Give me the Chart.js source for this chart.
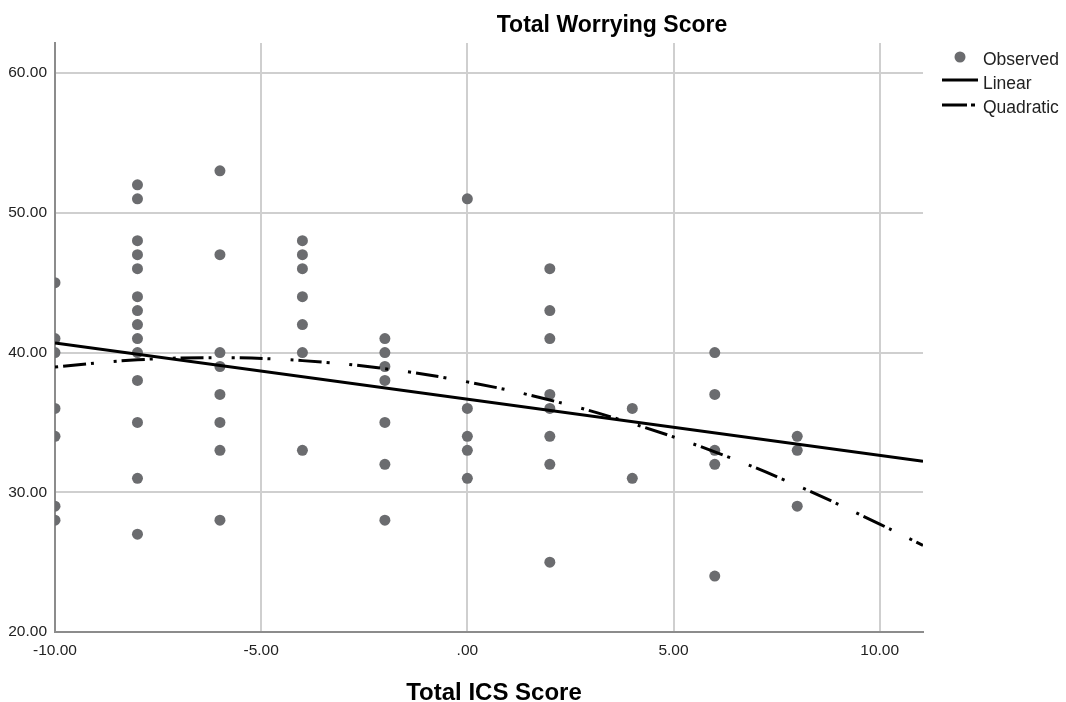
<!DOCTYPE html>
<html>
<head>
<meta charset="utf-8">
<title>Total Worrying Score</title>
<script src="https://cdn.jsdelivr.net/npm/chart.js@4"></script>
<style>
  html, body { margin: 0; padding: 0; background: #fff; }
  #wrap { width: 1066px; height: 702px; position: relative; }
</style>
</head>
<body>
<div id="wrap"><canvas id="worryChart"></canvas></div>
<script>
// ----------------------------- Data -----------------------------------
const chartTitle = 'Total Worrying Score';
const xAxisTitle = 'Total ICS Score';

// Observed cases (ICS score, worrying score), read column by column
const obsIcs = [
  -10, -10, -10, -10, -10, -10, -10,
  -8, -8, -8, -8, -8, -8, -8, -8, -8, -8, -8, -8, -8, -8,
  -6, -6, -6, -6, -6, -6, -6, -6,
  -4, -4, -4, -4, -4, -4, -4,
  -2, -2, -2, -2, -2, -2, -2,
  0, 0, 0, 0, 0,
  2, 2, 2, 2, 2, 2, 2, 2,
  4, 4,
  6, 6, 6, 6, 6,
  8, 8, 8
];
const obsWorry = [
  45, 41, 40, 36, 34, 29, 28,
  52, 51, 48, 47, 46, 44, 43, 42, 41, 40, 38, 35, 31, 27,
  53, 47, 40, 39, 37, 35, 33, 28,
  48, 47, 46, 44, 42, 40, 33,
  41, 40, 39, 38, 35, 32, 28,
  51, 36, 34, 33, 31,
  46, 43, 41, 37, 36, 34, 32, 25,
  36, 31,
  40, 37, 33, 32, 24,
  34, 33, 29
];

// Linear fit line (read at its two ends)
const linearIcs = [-10, 11.05];
const linearWorry = [40.68, 32.22];

// Quadratic fit curve
const quadIcs = [-10, -8, -6, -4, -2, 0, 2, 4, 6, 8, 10, 11.05];
const quadWorry = [38.96, 39.48, 39.63, 39.42, 38.84, 37.9, 36.6, 34.92, 32.89, 30.48, 27.72, 26.2];

// Axis ticks and range
const xTicks = [-10, -5, 0, 5, 10];
const yTicks = [20, 30, 40, 50, 60];
const xMin = -10, xMax = 11.05;
const yMin = 20, yMax = 62.15;

const legendLabels = ['Observed', 'Linear', 'Quadratic'];

// ----------------------------- Helpers ---------------------------------
const FONT = '"Liberation Sans", Arial, sans-serif';
const pointGrey = '#6b6c6f';
const quadDash = [3, 5, 23, 5, 3, 20];

function zip(xs, ys) {
  return xs.map((x, i) => ({ x: x, y: ys[i] }));
}

// SPSS style labels: ".00" for zero
function spssLabel(v) {
  const s = Number(v).toFixed(2);
  return s === '0.00' ? '.00' : s;
}

// Title, x axis title and legend drawn on the canvas
const spssText = {
  id: 'spssText',
  afterDraw(chart) {
    const ctx = chart.ctx;
    ctx.save();
    ctx.fillStyle = '#000';
    ctx.textAlign = 'center';
    ctx.textBaseline = 'alphabetic';
    ctx.font = 'bold 23px ' + FONT;
    ctx.fillText(chartTitle, 612, 32);
    ctx.font = 'bold 24px ' + FONT;
    ctx.fillText(xAxisTitle, 494, 700);

    // legend
    ctx.textAlign = 'left';
    ctx.font = '17.5px ' + FONT;
    ctx.fillStyle = '#222';
    ctx.fillText(legendLabels[0], 983, 65);
    ctx.fillText(legendLabels[1], 983, 89);
    ctx.fillText(legendLabels[2], 983, 113);

    ctx.fillStyle = pointGrey;
    ctx.beginPath();
    ctx.arc(960, 57, 5.5, 0, Math.PI * 2);
    ctx.fill();

    ctx.strokeStyle = '#000';
    ctx.lineWidth = 3;
    ctx.beginPath();
    ctx.moveTo(942, 80);
    ctx.lineTo(978, 80);
    ctx.stroke();

    ctx.beginPath();
    ctx.moveTo(942, 105);
    ctx.lineTo(967, 105);
    ctx.moveTo(971, 105);
    ctx.lineTo(975, 105);
    ctx.stroke();
    ctx.restore();
  }
};

// ----------------------------- Chart -----------------------------------
window.onload = function() {
  const ctx = document.getElementById('worryChart');
  new Chart(ctx, {
    type: 'scatter',
    data: {
      datasets: [
        {
          type: 'line',
          label: legendLabels[1],
          data: zip(linearIcs, linearWorry),
          borderColor: '#000',
          borderWidth: 3,
          pointRadius: 0,
          tension: 0,
          clip: 0,
          order: 1
        },
        {
          type: 'line',
          label: legendLabels[2],
          data: zip(quadIcs, quadWorry),
          borderColor: '#000',
          borderWidth: 3,
          borderDash: quadDash,
          borderCapStyle: 'butt',
          pointRadius: 0,
          tension: 0.4,
          clip: 0,
          order: 2
        },
        {
          label: legendLabels[0],
          data: zip(obsIcs, obsWorry),
          backgroundColor: pointGrey,
          borderWidth: 0,
          pointRadius: 5.5,
          pointHoverRadius: 5.5,
          clip: 0,
          order: 3
        }
      ]
    },
    options: {
      responsive: true,
      maintainAspectRatio: false,
      animation: false,
      events: [],
      layout: {
        padding: { top: 43, right: 143, left: 0, bottom: 0 }
      },
      scales: {
        x: {
          type: 'linear',
          min: xMin,
          max: xMax,
          afterBuildTicks: (scale) => { scale.ticks = xTicks.map(v => ({ value: v })); },
          afterFit: (scale) => { scale.height = 70; },
          ticks: {
            color: '#222',
            padding: 9,
            maxRotation: 0,
            font: { family: FONT, size: 15.5 },
            callback: (v) => spssLabel(v)
          },
          grid: { color: '#cfcfcf', lineWidth: 2, drawTicks: false },
          border: { color: '#8c8c8c', width: 2 }
        },
        y: {
          type: 'linear',
          min: yMin,
          max: yMax,
          afterBuildTicks: (scale) => { scale.ticks = yTicks.map(v => ({ value: v })); },
          afterFit: (scale) => { scale.width = 55; },
          ticks: {
            color: '#222',
            padding: 8,
            font: { family: FONT, size: 15.5 },
            callback: (v) => spssLabel(v)
          },
          grid: { color: '#cfcfcf', lineWidth: 2, drawTicks: false },
          border: { color: '#8c8c8c', width: 2 }
        }
      },
      plugins: {
        legend: { display: false },
        title: { display: false },
        tooltip: { enabled: false }
      }
    },
    plugins: [spssText]
  });
}
</script>
</body>
</html>
